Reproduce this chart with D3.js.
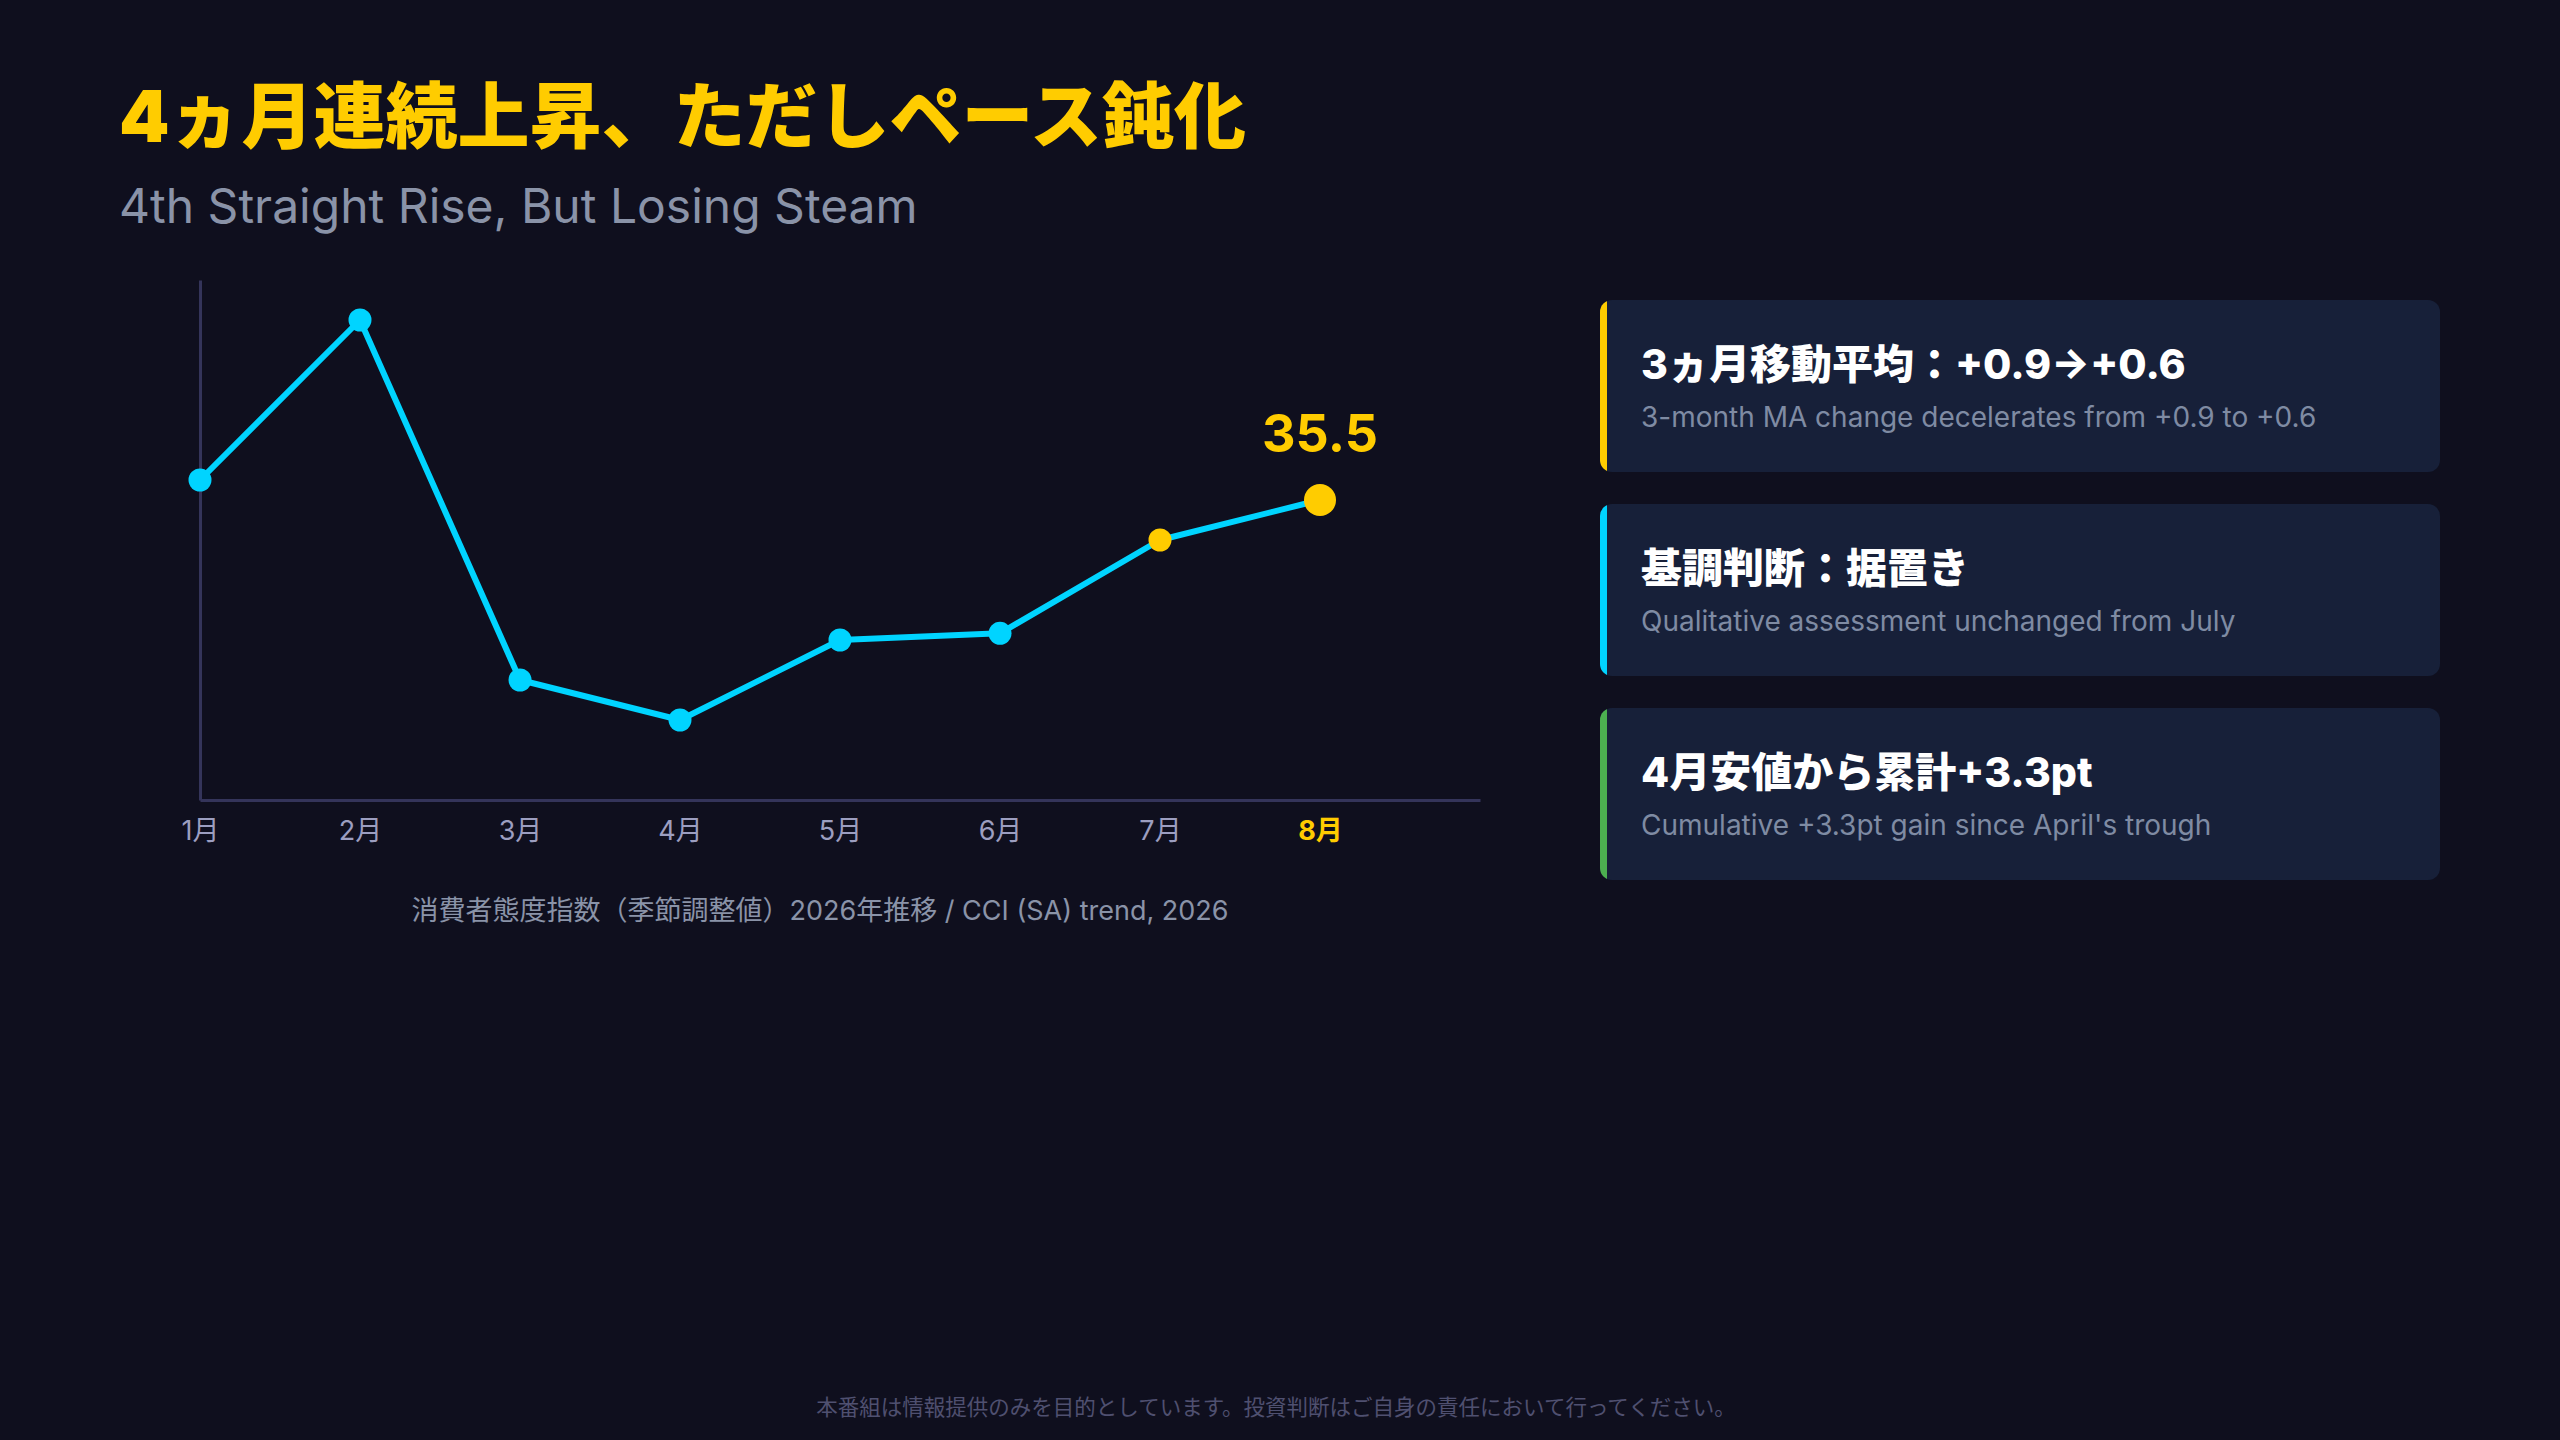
<!DOCTYPE html>
<html>
<head>
<meta charset="utf-8">
<script src="https://cdn.jsdelivr.net/npm/d3@7"></script>
<style>
  html, body { margin: 0; padding: 0; background: #0f0f1e; }
  svg { display: block; }
  text { font-family: "Inter", "Noto Sans CJK JP", sans-serif; }
</style>
</head>
<body>
<svg id="chart" width="2560" height="1440"></svg>
<script>
// ---- data ----
const months = ["1月", "2月", "3月", "4月", "5月", "6月", "7月", "8月"];
const cciValues = [35.8, 38.2, 32.8, 32.2, 33.4, 33.5, 34.9, 35.5];
const titleJa = "4ヵ月連続上昇、ただしペース鈍化";
const titleEn = "4th Straight Rise, But Losing Steam";
const chartCaption = "消費者態度指数（季節調整値）2026年推移 / CCI (SA) trend, 2026";
const cardTitles = ["3ヵ月移動平均：+0.9→+0.6", "基調判断：据置き", "4月安値から累計+3.3pt"];
const cardSubtitles = [
  "3-month MA change decelerates from +0.9 to +0.6",
  "Qualitative assessment unchanged from July",
  "Cumulative +3.3pt gain since April's trough"
];
const disclaimer = "本番組は情報提供のみを目的としています。投資判断はご自身の責任において行ってください。";

// ---- styles ----
const FONT = '"Inter", "Noto Sans CJK JP", sans-serif';
const C = {
  bg: "#0f0f1e", yellow: "#ffcc00", cyan: "#00d4ff", green: "#4caf50",
  axis: "#34345a", tick: "#9c9ec0", sub: "#8a93a8", card: "#172039",
  cardSub: "#7f8ba3", footer: "#4f5070"
};
const cardAccents = [C.yellow, C.cyan, C.green];

const svg = d3.select("#chart");
svg.append("rect").attr("width", 2560).attr("height", 1440).attr("fill", C.bg);

// titles
svg.append("text").attr("x", 119).attr("y", 142)
  .attr("font-size", 72).attr("font-weight", 900).attr("fill", C.yellow)
  .text(titleJa);
svg.append("text").attr("x", 119).attr("y", 223)
  .attr("font-size", 48).attr("font-weight", 400).attr("fill", C.sub)
  .text(titleEn);

// scales
const x = d3.scaleLinear().domain([0, months.length]).range([200, 1480]);
const y = d3.scaleLinear().domain([31.0, 38.8]).range([800, 280]);

// axes
const gx = svg.append("g").attr("transform", "translate(0,800)")
  .call(d3.axisBottom(x).tickValues(d3.range(months.length))
    .tickFormat(i => months[i]).tickSize(0).tickSizeOuter(0).tickPadding(21));
gx.select(".domain").attr("stroke", C.axis).attr("stroke-width", 3);
gx.selectAll(".tick text")
  .attr("font-size", 27)
  .attr("font-family", FONT)
  .attr("fill", (d, i) => i === months.length - 1 ? C.yellow : C.tick)
  .attr("font-weight", (d, i) => i === months.length - 1 ? 700 : 400);

const gy = svg.append("g").attr("transform", "translate(200,0)")
  .call(d3.axisLeft(y).tickValues([]).tickSizeOuter(0));
gy.select(".domain").attr("stroke", C.axis).attr("stroke-width", 3);

// line
const line = d3.line().x((d, i) => x(i)).y(d => y(d));
svg.append("path").datum(cciValues)
  .attr("d", line).attr("fill", "none")
  .attr("stroke", C.cyan).attr("stroke-width", 6)
  .attr("stroke-linejoin", "round").attr("stroke-linecap", "round");

const last = cciValues.length - 1;
svg.selectAll("circle.pt").data(cciValues).join("circle")
  .attr("class", "pt")
  .attr("cx", (d, i) => x(i)).attr("cy", d => y(d))
  .attr("r", (d, i) => i === last ? 16 : 11.5)
  .attr("fill", (d, i) => i >= last - 1 ? C.yellow : C.cyan);

svg.append("text")
  .attr("x", x(last)).attr("y", y(cciValues[last]) - 48)
  .attr("text-anchor", "middle").attr("font-size", 52).attr("font-weight", 700)
  .attr("fill", C.yellow)
  .text(d3.format(".1f")(cciValues[last]));

// caption
svg.append("text").attr("x", 820).attr("y", 920)
  .attr("text-anchor", "middle").attr("font-size", 27).attr("fill", C.sub)
  .text(chartCaption);

// cards
const defs = svg.append("defs");
cardTitles.forEach((t, i) => {
  const top = 300 + i * 204;
  const id = "cardclip" + i;
  defs.append("clipPath").attr("id", id)
    .append("rect").attr("x", 1600).attr("y", top).attr("width", 840).attr("height", 172).attr("rx", 12);
  const g = svg.append("g").attr("clip-path", `url(#${id})`);
  g.append("rect").attr("x", 1600).attr("y", top).attr("width", 840).attr("height", 172).attr("fill", C.card);
  g.append("rect").attr("x", 1600).attr("y", top).attr("width", 7).attr("height", 172).attr("fill", cardAccents[i]);
  svg.append("text").attr("x", 1641).attr("y", top + 79)
    .attr("font-size", 41).attr("font-weight", 800).attr("fill", "#ffffff").text(t);
  svg.append("text").attr("x", 1641).attr("y", top + 127)
    .attr("font-size", 28).attr("font-weight", 400).attr("fill", C.cardSub).text(cardSubtitles[i]);
});

// footer
svg.append("text").attr("x", 1276).attr("y", 1415)
  .attr("text-anchor", "middle").attr("font-size", 21.5).attr("fill", C.footer)
  .text(disclaimer);
</script>
</body>
</html>
